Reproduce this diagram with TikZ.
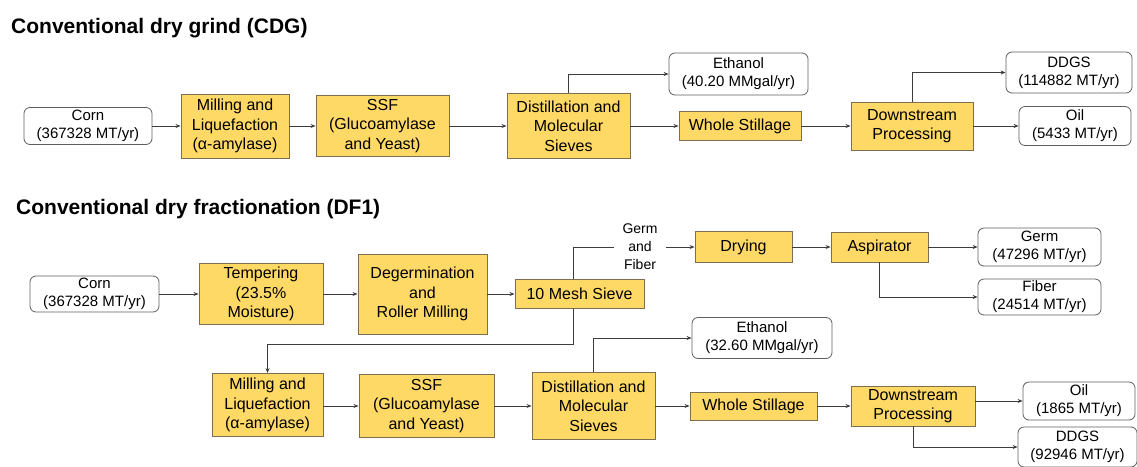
\documentclass[tikz,border=0pt]{standalone}
\usepackage{fontspec}
\setmainfont{Liberation Sans}
\usetikzlibrary{arrows.meta,calc}
\definecolor{procfill}{RGB}{255,217,102}
\definecolor{procdraw}{RGB}{125,110,80}
\definecolor{outdraw}{RGB}{95,95,95}
\definecolor{flowgray}{RGB}{60,60,60}
\tikzset{
  ptitle/.style={anchor=base west, inner sep=0pt, font=\fontsize{21}{24}\selectfont\bfseries},
  pbox/.style={rectangle, draw=procdraw, fill=procfill, line width=0.9pt,
               align=center, inner sep=1pt, font=\fontsize{16}{19.5}\selectfont},
  obox/.style={rectangle, rounded corners=6pt, draw=outdraw, fill=white, line width=0.8pt,
               align=center, inner sep=1pt, font=\fontsize{15}{18}\selectfont},
  plabel/.style={align=center, inner sep=0pt, font=\fontsize{14}{18}\selectfont},
  flow/.style={-{Stealth[length=5pt,width=4pt]}, line width=0.8pt, flowgray},
  fline/.style={line width=0.8pt, flowgray},
}
\begin{document}
\begin{tikzpicture}[x=1pt,y=-1pt]
  \clip (0,0) rectangle (1137,466);
  \useasboundingbox (0,0) rectangle (1137,466);
  % CDG
  \node[ptitle] (tcdg) at (11,33) {Conventional dry grind (CDG)};
  \node[obox, minimum width=128, minimum height=37] (corn1) at (88,126)    {Corn\\(367328 MT/yr)};
  \node[pbox, minimum width=108, minimum height=64] (mill1) at (235,126)   {Milling and\\Liquefaction\\(α-amylase)};
  \node[pbox, minimum width=133, minimum height=61] (ssf1)  at (382.5,126) {SSF\\(Glucoamylase\\and Yeast)};
  \node[pbox, minimum width=123, minimum height=65] (dist1) at (568.5,126) {Distillation and\\Molecular\\Sieves};
  \node[obox, minimum width=139, minimum height=42] (eth1)  at (738.5,74)  {Ethanol\\(40.20 MMgal/yr)};
  \node[pbox, minimum width=122, minimum height=29] (ws1)   at (740,126)   {Whole Stillage};
  \node[pbox, minimum width=122, minimum height=48] (dp1)   at (912,126)   {Downstream\\Processing};
  \node[obox, minimum width=126, minimum height=41] (ddgs1) at (1069,72.5) {DDGS\\(114882 MT/yr)};
  \node[obox, minimum width=112, minimum height=39] (oil1)  at (1075,126)  {Oil\\(5433 MT/yr)};
  \draw[flow] (corn1) -- (mill1);
  \draw[flow] (mill1) -- (ssf1);
  \draw[flow] (ssf1) -- (dist1);
  \draw[flow] (dist1.north) |- (eth1.west);
  \draw[flow] (dist1) -- (ws1);
  \draw[flow] (ws1) -- (dp1);
  \draw[flow] (dp1.north) |- (ddgs1.west);
  \draw[flow] (dp1) -- (oil1);
  % DF1
  \node[ptitle] (tdf1) at (16,214) {Conventional dry fractionation (DF1)};
  \node[obox, minimum width=129, minimum height=36] (corn2)  at (94.5,294)  {Corn\\(367328 MT/yr)};
  \node[pbox, minimum width=124, minimum height=61] (temp)   at (261,294)   {Tempering\\(23.5\%\\Moisture)};
  \node[pbox, minimum width=129, minimum height=80] (degerm) at (422.5,294) {Degermination\\and\\Roller Milling};
  \node[pbox, minimum width=129, minimum height=29] (sieve)  at (579.5,294) {10 Mesh Sieve};
  \node[plabel, minimum width=51] (gf) at (640,247) {Germ\\and\\Fiber};
  \node[pbox, minimum width=97, minimum height=31]  (dry)    at (743.5,247) {Drying};
  \node[pbox, minimum width=97, minimum height=30]  (asp)    at (879.5,247) {Aspirator};
  \node[obox, minimum width=123, minimum height=38] (germ)   at (1039.5,247) {Germ\\(47296 MT/yr)};
  \node[obox, minimum width=123, minimum height=36] (fiber)  at (1039.5,297) {Fiber\\(24514 MT/yr)};
  \coordinate (sb) at (573,344);
  \node[pbox, minimum width=111, minimum height=63] (mill2)  at (267.5,405) {Milling and\\Liquefaction\\(α-amylase)};
  \node[pbox, minimum width=135, minimum height=63] (ssf2)   at (426.5,406) {SSF\\(Glucoamylase\\and Yeast)};
  \node[pbox, minimum width=123, minimum height=67] (dist2)  at (593.5,406) {Distillation and\\Molecular\\Sieves};
  \node[obox, minimum width=140, minimum height=41] (eth2)   at (762,338)   {Ethanol\\(32.60 MMgal/yr)};
  \node[pbox, minimum width=127, minimum height=28] (ws2)    at (753.5,406) {Whole Stillage};
  \node[pbox, minimum width=124, minimum height=40] (dp2)    at (913,406)   {Downstream\\Processing};
  \node[obox, minimum width=112, minimum height=38] (oil2)   at (1079,401)  {Oil\\(1865 MT/yr)};
  \node[obox, minimum width=119, minimum height=40] (ddgs2)  at (1077.5,447) {DDGS\\(92946 MT/yr)};
  \draw[flow] (corn2) -- (temp);
  \draw[flow] (temp) -- (degerm);
  \draw[flow] (degerm) -- (sieve);
  \draw[fline] (sieve.north -| sb) |- (gf.west);
  \draw[flow] (gf.east |- dry.west) -- (dry.west);
  \draw[flow] (dry) -- (asp);
  \draw[flow] (asp) -- (germ);
  \draw[flow] (asp.south) |- (fiber.west);
  \draw[flow] (sieve.south -| sb) -- (sb) -| (mill2.north);
  \draw[flow] (mill2.east |- ssf2.west) -- (ssf2.west);
  \draw[flow] (ssf2) -- (dist2);
  \draw[flow] (dist2.north) |- (eth2.west);
  \draw[flow] (dist2) -- (ws2);
  \draw[flow] (ws2) -- (dp2);
  \draw[flow] (dp2.east |- oil2.west) -- (oil2.west);
  \draw[flow] (dp2.south) |- (ddgs2.west);
\end{tikzpicture}
\end{document}
